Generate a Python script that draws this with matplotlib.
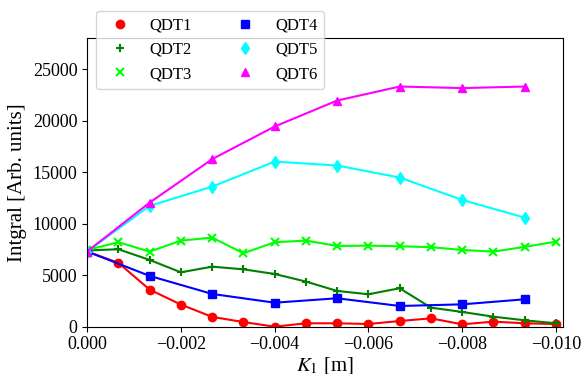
import matplotlib
matplotlib.use('Agg')
import matplotlib.pyplot as plt
import numpy as np

plt.rcParams['font.family'] = 'Liberation Serif'
plt.rcParams['mathtext.fontset'] = 'stix'

# K1 positions (m)
k_all = [0.0, -0.000667, -0.001333, -0.002, -0.002667, -0.003333, -0.004, -0.004667,
         -0.005333, -0.006, -0.006667, -0.007333, -0.008, -0.008667, -0.009333, -0.010]
k_half = [0.0, -0.001333, -0.002667, -0.004, -0.005333, -0.006667, -0.008, -0.009333]

qdt1 = [7300, 6200, 3600, 2150, 950, 450, 0, 330, 330, 260, 550, 810, 230, 490, 330, 260]
qdt2 = [7400, 7520, 6480, 5280, 5830, 5570, 5120, 4380, 3470, 3150, 3730, 1850, 1430, 970, 620, 330]
qdt3 = [7450, 8200, 7290, 8360, 8650, 7130, 8200, 8360, 7840, 7870, 7810, 7720, 7450, 7290, 7750, 8260]
qdt4 = [7300, 4930, 3180, 2330, 2760, 2010, 2170, 2660]
qdt5 = [7300, 11730, 13600, 16030, 15650, 14480, 12310, 10590]
qdt6 = [7300, 12050, 16270, 19440, 21960, 23320, 23170, 23320]

fig = plt.figure(figsize=(5.81, 3.74), dpi=100)
ax = fig.add_axes([0.15, 0.1265, 0.819, 0.771])

series = [
    (k_all, qdt1, 'red', 'o', 'QDT1'),
    (k_all, qdt2, 'green', '+', 'QDT2'),
    (k_all, qdt3, 'lime', 'x', 'QDT3'),
    (k_half, qdt4, 'blue', 's', 'QDT4'),
    (k_half, qdt5, 'cyan', 'd', 'QDT5'),
    (k_half, qdt6, 'magenta', '^', 'QDT6'),
]
for x, y, c, m, lab in series:
    ax.plot(x, y, color=c, lw=1.5)
    mew = 1.5 if m in '+x' else 1.0
    ax.plot(x, y, ls='none', marker=m, color=c, ms=6, mew=mew, label=lab)

ax.set_xlim(0.0, -0.01015)
ax.set_ylim(0, 28000)
ax.set_xticks([0.0, -0.002, -0.004, -0.006, -0.008, -0.010])
ax.tick_params(labelsize=13)
ax.set_xlabel('$K_1$ [m]', fontsize=15, labelpad=1)
ax.set_ylabel('Intgral [Arb. units]', fontsize=15)

ax.legend(ncol=2, loc='upper left', bbox_to_anchor=(0.019, 1.095), borderaxespad=0,
          fontsize=12, columnspacing=2.2)

fig.savefig('out.png', dpi=100)
